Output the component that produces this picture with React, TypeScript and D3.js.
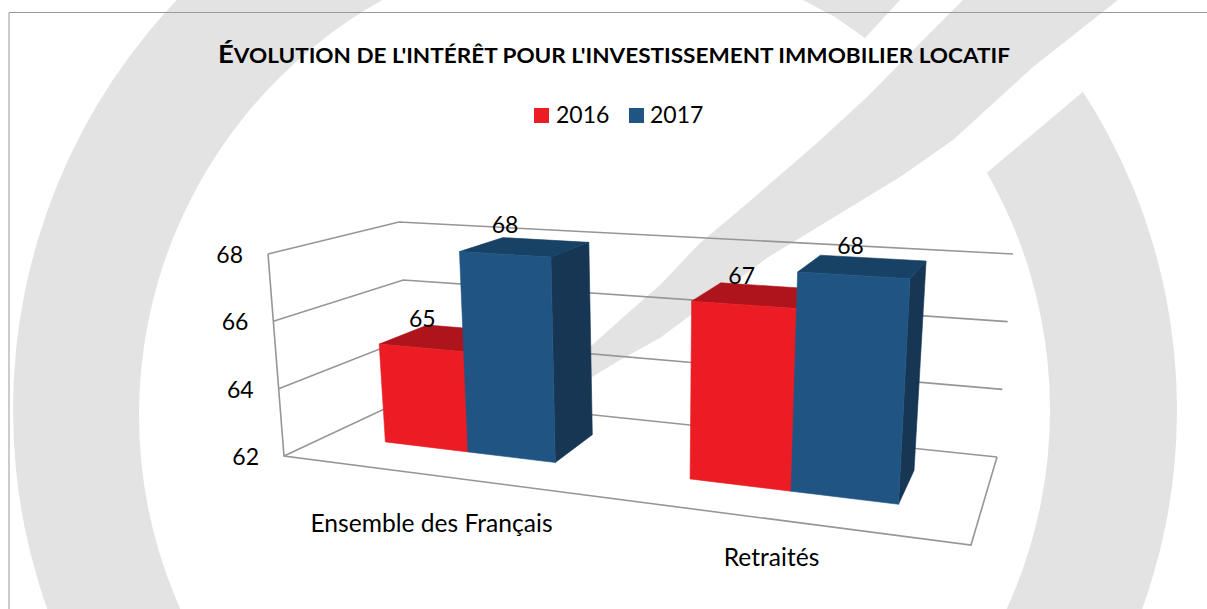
import React from "react";
import * as d3 from "d3";

// ---- data ----
const categories = ["Ensemble des Français", "Retraités"];
const seriesNames = ["2016", "2017"];
const values2016 = [65, 67];
const values2017 = [68, 68];
const yTicks = [62, 64, 66, 68];

// ---- style ----
const W = 1207;
const H = 609;
const FONT = "Lato, 'Open Sans', sans-serif";
const GREY = "#e3e3e3";
const AXIS = "#969696";
const faces: Record<string, { front: string; top: string; side: string }> = {
  "2016": { front: "#ec1c24", top: "#ae141c", side: "#8c1017" },
  "2017": { front: "#205583", top: "#184166", side: "#163654" },
};

// corners of the 3D plot box as seen on screen
const box = {
  fbl: [284, 456], bbl: [412, 396], fbr: [971, 545], bbr: [997, 457],
  ftl: [268, 254], btl: [399, 222], ftr: [986, 300], btr: [1013, 254],
};
const perspective = 0.815;
const warp = (u: number) => (perspective * u) / (1 + (perspective - 1) * u);
const mix = (a: number, b: number, k: number) => a + (b - a) * k;
function project(u0: number, d: number, t: number): [number, number] {
  const u = warp(u0);
  const c = (i: number) => {
    const bottomL = mix(box.fbl[i], box.bbl[i], d);
    const bottomR = mix(box.fbr[i], box.bbr[i], d);
    const topL = mix(box.ftl[i], box.btl[i], d);
    const topR = mix(box.ftr[i], box.btr[i], d);
    return mix(mix(bottomL, bottomR, u), mix(topL, topR, u), t);
  };
  return [c(0), c(1)];
}

const yScale = d3.scaleLinear().domain([62, 68]).range([0, 1]);
const xBand = d3.scaleBand<string>().domain(categories).range([0, 1]).paddingInner(0.418).paddingOuter(0.209);
const xSeries = d3.scaleBand<string>().domain(seriesNames).range([0, xBand.bandwidth()]);
const D_FRONT = 0.35;
const D_BACK = 0.75;

const poly = d3.line<[number, number]>().curve(d3.curveLinearClosed);
const open = d3.line<[number, number]>();

function ring(cx1: number, cy1: number, r1: number, cx2: number, cy2: number, r2: number) {
  const p = d3.path();
  p.moveTo(cx1 + r1, cy1);
  p.arc(cx1, cy1, r1, 0, Math.PI * 2);
  p.closePath();
  p.moveTo(cx2 + r2, cy2);
  p.arc(cx2, cy2, r2, 0, Math.PI * 2);
  p.closePath();
  return p.toString();
}

const bandUpper: [number, number][] = [[963, 0], [933, 30], [867, 97], [817, 143], [743, 207], [700, 243], [660, 285], [620, 320], [590, 347], [555, 375]];
const bandLower: [number, number][] = [[1118, 0], [1033, 67], [953, 140], [900, 177], [767, 258], [660, 338], [620, 360], [592, 377], [555, 400]];

function Watermark() {
  return (
    <g>
      <defs>
        <clipPath id="leftArc"><rect x={0} y={0} width={400} height={H} /></clipPath>
        <clipPath id="rightArc">
          <path d={poly([[900, 246], [1207, -13], [1207, 609], [900, 609]]) ?? ""} />
        </clipPath>
      </defs>
      <path d={ring(607.5, 410, 594.5, 614, 415, 475)} fill={GREY} fillRule="evenodd" clipPath="url(#leftArc)" />
      <path d={ring(592, 410, 585, 571.5, 410, 478.5)} fill={GREY} fillRule="evenodd" clipPath="url(#rightArc)" />
      <path d={poly([...bandUpper, ...[...bandLower].reverse()]) ?? ""} fill={GREY} />
      <path d={poly([[803, 0], [835, 17], [865, 38], [900, 0]]) ?? ""} fill={GREY} />
    </g>
  );
}

function Face({ color, pts }: { color: string; pts: [number, number][] }) {
  return <path fill={color} stroke={color} strokeWidth={0.6} strokeLinejoin="round" d={poly(pts) ?? ""} />;
}

function Bars() {
  const series = [
    { name: seriesNames[0], vals: values2016 },
    { name: seriesNames[1], vals: values2017 },
  ];
  return (
    <g>
      {categories.map((cat, ci) =>
        series.map((s) => {
          const u0 = (xBand(cat) ?? 0) + (xSeries(s.name) ?? 0);
          const u1 = u0 + xSeries.bandwidth();
          const t = yScale(s.vals[ci]);
          const fc = faces[s.name];
          return (
            <g key={cat + s.name}>
              <Face color={fc.side} pts={[project(u1, D_FRONT, 0), project(u1, D_BACK, 0), project(u1, D_BACK, t), project(u1, D_FRONT, t)]} />
              <Face color={fc.top} pts={[project(u0, D_FRONT, t), project(u0, D_BACK, t), project(u1, D_BACK, t), project(u1, D_FRONT, t)]} />
              <Face color={fc.front} pts={[project(u0, D_FRONT, 0), project(u1, D_FRONT, 0), project(u1, D_FRONT, t), project(u0, D_FRONT, t)]} />
            </g>
          );
        })
      )}
      {categories.map((cat, ci) =>
        series.map((s) => {
          const u = (xBand(cat) ?? 0) + (xSeries(s.name) ?? 0) + xSeries.bandwidth() / 2;
          const [x, y] = project(u, D_FRONT, yScale(s.vals[ci]));
          return (
            <text key={cat + s.name} x={x + 2.5 - 6 * u} y={y - 21} textAnchor="middle" fontFamily={FONT} fontSize={23} fill="#000">
              {s.vals[ci]}
            </text>
          );
        })
      )}
    </g>
  );
}

function Axes() {
  const lineProps = { fill: "none", stroke: AXIS, strokeWidth: 1.6 };
  return (
    <g>
      {yTicks.map((v) => {
        const t = yScale(v);
        return <path key={v} {...lineProps} d={open([project(0, 0, t), project(0, 1, t), project(1, 1, t)]) ?? ""} />;
      })}
      <path {...lineProps} strokeLinejoin="miter" d={open([project(0, 0, 1), project(0, 0, 0), project(1, 0, 0), project(1, 1, 0)]) ?? ""} />
      {yTicks.map((v) => {
        const [x, y] = project(0, 0, yScale(v));
        return (
          <text key={v} x={x - 25} y={y + 9} textAnchor="end" fontFamily={FONT} fontSize={23} fill="#000">
            {v}
          </text>
        );
      })}
    </g>
  );
}

const categoryLabelPos = [
  { x: 431.5, y: 532 },
  { x: 771.5, y: 566 },
];

export default function App() {
  return (
    <svg width={W} height={H} viewBox={`0 0 ${W} ${H}`} style={{ position: "absolute", left: 0, top: 0, display: "block", background: "#fff" }}>
      <Watermark />
      <path d={open([[9, H], [9, 12.5], [W, 12.5]]) ?? ""} fill="none" stroke="#999" strokeWidth={1} />
      <text x={218} y={63} fontFamily={FONT} fontWeight={700} fill="#000" textLength={792} lengthAdjust="spacingAndGlyphs">
        <tspan fontSize={25}>É</tspan>
        <tspan fontSize={20.5}>VOLUTION DE L'INTÉRÊT POUR L'INVESTISSEMENT IMMOBILIER LOCATIF</tspan>
      </text>
      {seriesNames.map((s, i) => {
        const x = i === 0 ? 534 : 629;
        return (
          <g key={s}>
            <rect x={x} y={108} width={15} height={15} fill={faces[s].front} />
            <text x={x + (i === 0 ? 22 : 21)} y={123} fontFamily={FONT} fontSize={23} fill="#000">{s}</text>
          </g>
        );
      })}
      <Axes />
      <Bars />
      {categories.map((c, i) => (
        <text key={c} x={categoryLabelPos[i].x} y={categoryLabelPos[i].y} textAnchor="middle" fontFamily={FONT} fontSize={24.6} fill="#000">
          {c}
        </text>
      ))}
    </svg>
  );
}
